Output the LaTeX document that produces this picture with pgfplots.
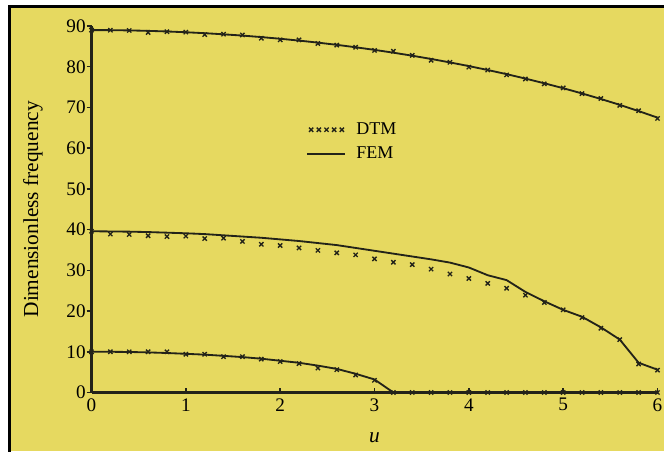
\documentclass[border=0pt]{standalone}
\usepackage{fontspec}
\setmainfont{Liberation Serif}
\usepackage{pgfplots}
\usepackage{pgfplotstable}
\pgfplotsset{compat=1.18}
\definecolor{bgyellow}{RGB}{230,217,96}
\definecolor{ink}{RGB}{35,35,25}

\pgfplotsset{
  dtm legend/.style={legend image code/.code={\draw[##1, only marks] plot coordinates {(2.4pt,0pt) (7pt,0pt) (11.6pt,0pt) (16.2pt,0pt) (20.8pt,0pt)};}},
  fem legend/.style={legend image code/.code={\draw[##1] (0pt,0pt) -- (22.8pt,0pt);}},
  dtm marks/.style={only marks, mark=x, mark size=1.8pt, mark options={line width=0.8pt, ink}},
  fem line/.style={ink, line width=1.1pt, no markers},
}

% u, FEM/DTM for the three modes (A top, B middle, C bottom)
\pgfplotstableread{
u   fA     dA     fB     dB     fC    dC
0.0 89.00  89.00  39.6   39.6   10.0  10.0
0.2 88.98  88.98  39.55  38.9   10.0  10.0
0.4 88.92  88.90  39.5   38.8   9.95  10.0
0.6 88.81  88.40  39.4   38.5   9.85  10.0
0.8 88.66  88.60  39.25  38.3   9.7   10.0
1.0 88.47  88.50  39.1   38.4   9.5   9.4
1.2 88.24  87.90  38.9   37.8   9.3   9.4
1.4 87.96  88.00  38.6   37.9   9.0   8.8
1.6 87.65  87.80  38.3   37.1   8.7   8.8
1.8 87.28  87.00  38.0   36.4   8.3   8.2
2.0 86.87  86.60  37.6   36.1   7.8   7.6
2.2 86.42  86.60  37.2   35.5   7.3   7.1
2.4 85.92  85.70  36.7   34.9   6.6   6.0
2.6 85.38  85.30  36.2   34.3   5.8   5.6
2.8 84.78  84.80  35.5   33.8   4.6   4.3
3.0 84.14  84.00  34.8   32.8   3.2   3.0
3.2 83.45  83.80  34.1   32.0   0     0
3.4 82.71  82.80  33.4   31.4   0     0
3.6 81.91  81.60  32.7   30.3   0     0
3.8 81.06  81.10  31.9   29.1   0     0
4.0 80.16  79.90  30.7   28.0   0     0
4.2 79.20  79.20  28.8   26.8   0     0
4.4 78.18  78.00  27.6   25.6   0     0
4.6 77.09  77.00  24.7   23.9   0     0
4.8 75.94  75.80  22.4   22.1   0     0
5.0 74.73  74.80  20.3   20.3   0     0
5.2 73.44  73.40  18.6   18.4   0     0
5.4 72.08  72.20  16.0   15.8   0     0
5.6 70.64  70.50  13.0   13.0   0     0
5.8 69.11  69.20  7.3    7.0    0     0
6.0 67.50  67.30  5.6    5.5    0     0
}\modes

\begin{document}
\begin{tikzpicture}
\path[use as bounding box] (-54.9pt,-35.1pt) rectangle (343.5pt,235.5pt);
\fill[white] (-54.9pt,-35.1pt) rectangle (343.5pt,235.5pt);
\fill[bgyellow] (-49.2pt,-35.1pt) rectangle (343.5pt,231.6pt);
\draw[black, line width=1.8pt] (-49.2pt,-36pt) -- (-49.2pt,231.6pt) -- (343.5pt,231.6pt);
\begin{axis}[
  width=339.6pt, height=219.9pt, scale only axis,
  xmin=0, xmax=6, ymin=0, ymax=90,
  axis x line*=bottom, axis y line*=left,
  axis line style={-, line width=1.3pt, color=ink},
  xtick={0,...,6}, ytick={0,10,...,90},
  tick align=inside, major tick length=3pt,
  tick style={line width=0.9pt, color=ink},
  y tick style={xshift=-3pt},
  /pgf/number format/assume math mode=true,
  ticklabel style={font=\fontsize{11.5}{13}\selectfont, text=black},
  xlabel={\textit{u}}, ylabel={Dimensionless frequency},
  label style={font=\fontsize{12.8}{15}\selectfont},
  xlabel style={at={(axis description cs:0.5,-0.124)}, anchor=center},
  ylabel style={at={(axis description cs:-0.1034,0.5)}, anchor=center},
  legend style={at={(axis cs:2.22,68)}, anchor=north west, draw=none, fill=none,
    font=\fontsize{10.8}{13}\selectfont, row sep=2pt,
    /tikz/every odd column/.append style={column sep=4.2pt}},
  legend cell align=left,
  clip=false,
]
\addplot[dtm marks, dtm legend] table[x=u,y=dA]{\modes};
\addlegendentry{DTM}
\addplot[fem line, fem legend] table[x=u,y=fA]{\modes};
\addlegendentry{FEM}
\addplot[forget plot, fem line] table[x=u,y=fB]{\modes};
\addplot[forget plot, dtm marks] table[x=u,y=dB]{\modes};
\addplot[forget plot, fem line] table[x=u,y=fC]{\modes};
\addplot[forget plot, dtm marks] table[x=u,y=dC]{\modes};
\end{axis}
\end{tikzpicture}
\end{document}
